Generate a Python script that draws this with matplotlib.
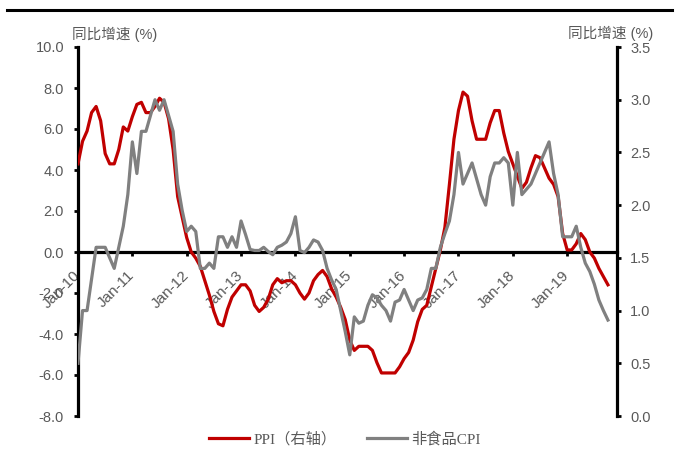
import matplotlib
matplotlib.use('Agg')
import matplotlib.pyplot as plt
from matplotlib.lines import Line2D

tick_labels = ['Jan-10', 'Jan-11', 'Jan-12', 'Jan-13', 'Jan-14',
               'Jan-15', 'Jan-16', 'Jan-17', 'Jan-18', 'Jan-19']

ppi = [
    4.3, 5.4, 5.9, 6.8, 7.1, 6.4, 4.8, 4.3, 4.3, 5.0, 6.1, 5.9,
    6.6, 7.2, 7.3, 6.8, 6.8, 7.1, 7.5, 7.3, 6.5, 5.0, 2.7, 1.7,
    0.7, 0.0, -0.3, -0.7, -1.4, -2.1, -2.9, -3.5, -3.6, -2.8, -2.2, -1.9,
    -1.6, -1.6, -1.9, -2.6, -2.9, -2.7, -2.3, -1.6, -1.3, -1.5, -1.4, -1.4,
    -1.6, -2.0, -2.3, -2.0, -1.4, -1.1, -0.9, -1.2, -1.8, -2.2, -2.7, -3.3,
    -4.3, -4.8, -4.6, -4.6, -4.6, -4.8, -5.4, -5.9, -5.9, -5.9, -5.9, -5.6,
    -5.2, -4.9, -4.3, -3.4, -2.8, -2.6, -1.7, -0.8, 0.1, 1.2, 3.3, 5.5,
    6.9, 7.8, 7.6, 6.4, 5.5, 5.5, 5.5, 6.3, 6.9, 6.9, 5.8, 4.9,
    4.3, 3.7, 3.1, 3.4, 4.1, 4.7, 4.6, 4.1, 3.6, 3.3, 2.7, 0.9,
    0.1, 0.1, 0.4, 0.9, 0.6, 0.0, -0.3, -0.8, -1.2, -1.6,
]

nonfood_cpi = [
    0.5, 1.0, 1.0, 1.3, 1.6, 1.6, 1.6, 1.5, 1.4, 1.6, 1.8, 2.1,
    2.6, 2.3, 2.7, 2.7, 2.85, 3.0, 2.9, 3.0, 2.85, 2.7, 2.2, 1.95,
    1.75, 1.8, 1.75, 1.4, 1.4, 1.45, 1.4, 1.7, 1.7, 1.6, 1.7, 1.6,
    1.85, 1.72, 1.58, 1.57, 1.57, 1.6, 1.56, 1.53, 1.6, 1.62, 1.65, 1.73,
    1.89, 1.57, 1.55, 1.6, 1.67, 1.65, 1.57, 1.4, 1.29, 1.2, 1.0, 0.8,
    0.58, 0.94, 0.88, 0.9, 1.05, 1.15, 1.12, 1.05, 1.0, 0.9, 1.08, 1.1,
    1.2, 1.1, 1.0, 1.1, 1.12, 1.2, 1.4, 1.4, 1.6, 1.73, 1.85, 2.1,
    2.5, 2.2, 2.3, 2.4, 2.25, 2.1, 2.0, 2.27, 2.4, 2.4, 2.45, 2.4,
    2.0, 2.5, 2.1, 2.15, 2.2, 2.3, 2.4, 2.5, 2.6, 2.3, 2.1, 1.7,
    1.7, 1.7, 1.8, 1.6, 1.45, 1.37, 1.25, 1.1, 1.0, 0.91,
]

left_ticks = [-8, -6, -4, -2, 0, 2, 4, 6, 8, 10]
right_ticks = [0.0, 0.5, 1.0, 1.5, 2.0, 2.5, 3.0, 3.5]

RED = '#C00000'
GRAY = '#808080'
TXT = '#595959'

plt.rcParams['font.family'] = ['Liberation Sans', 'Noto Sans CJK SC']

W, H = 678, 450
fig = plt.figure(figsize=(W / 100, H / 100), dpi=100)
ax = fig.add_axes([78 / W, 1 - 416 / H, (617 - 78) / W, (416 - 47) / H])
ax2 = ax.twinx()

ax.plot(range(len(ppi)), ppi, color=RED, lw=2.3, zorder=3,
        solid_joinstyle='round', label='PPI（右轴）')
ax2.plot(range(len(nonfood_cpi)), nonfood_cpi, color=GRAY, lw=2.3,
         solid_joinstyle='round', label='非食品CPI')

ax.set_xlim(0, 119)
ax.set_ylim(-8, 10)
ax2.set_ylim(0, 3.5)

# spines
for s in ['top', 'right']:
    ax.spines[s].set_visible(False)
for s in ['top', 'bottom', 'left']:
    ax2.spines[s].set_visible(False)
ax.spines['left'].set_linewidth(2.3)
ax.spines['bottom'].set_linewidth(2.3)
ax.spines['bottom'].set_position(('data', 0))
ax2.spines['right'].set_linewidth(2.3)

ax.set_yticks(left_ticks)
ax.set_yticklabels([f'{v:.1f}' for v in left_ticks])
ax2.set_yticks(right_ticks)
ax2.set_yticklabels([f'{v:.1f}' for v in right_ticks])

ax.set_xticks(range(0, 12 * len(tick_labels), 12))
ax.set_xticklabels(tick_labels, rotation=45, ha='right', va='center',
                   rotation_mode='anchor')

ax.tick_params(axis='y', direction='out', length=3, width=2, color='black',
               labelcolor=TXT, labelsize=10.5, pad=7)
ax2.tick_params(axis='y', direction='out', length=3, width=2, color='black',
                labelcolor=TXT, labelsize=10.5, pad=6.5)
ax.tick_params(axis='x', direction='out', length=3, width=2, color='black',
               labelcolor=TXT, labelsize=11, pad=12)

# axis titles
fig.text(72 / W, 1 - 34 / H, '同比增速 (%)', ha='left', va='center',
         color=TXT, fontsize=10.5)
fig.text(653 / W, 1 - 33 / H, '同比增速 (%)', ha='right', va='center',
         color=TXT, fontsize=10.5)

# top border line
fig.add_artist(Line2D([7 / W, 672 / W], [1 - 10 / H, 1 - 10 / H],
                      color='black', lw=2.2, transform=fig.transFigure))

# legend
h1, l1 = ax.get_legend_handles_labels()
h2, l2 = ax2.get_legend_handles_labels()
leg = fig.legend(h1 + h2, l1 + l2, loc='center', ncol=2, frameon=False,
                 bbox_to_anchor=(345 / W, 1 - 439 / H),
                 prop={'family': ['Liberation Serif', 'Noto Sans CJK SC'],
                       'size': 11},
                 handlelength=2.6, handletextpad=0.3, columnspacing=2.0)
for t in leg.get_texts():
    t.set_color(TXT)

fig.savefig('out.png', dpi=100, facecolor='white')
